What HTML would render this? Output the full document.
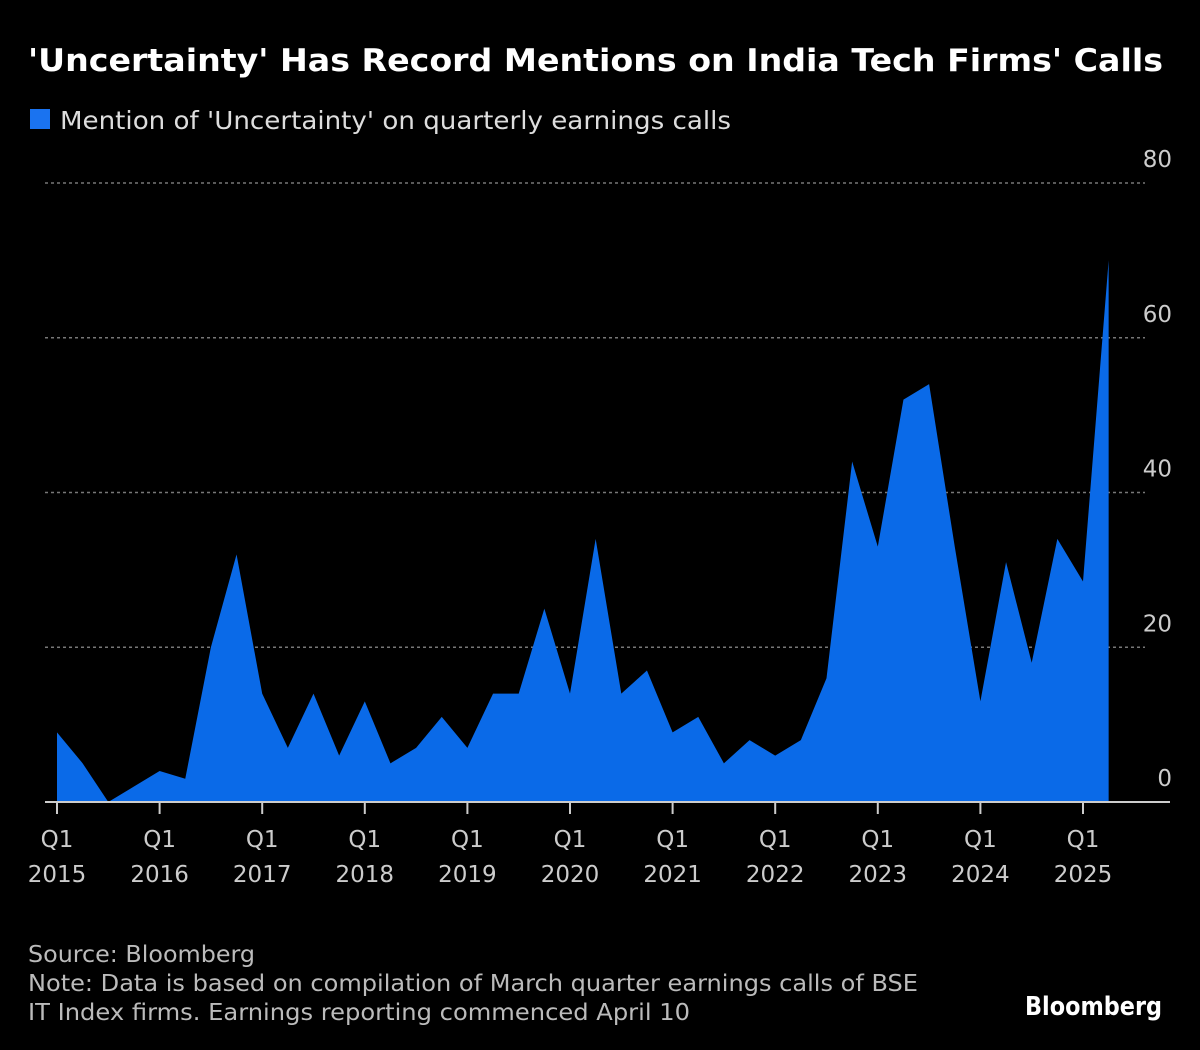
<!DOCTYPE html>
<html><head><meta charset="utf-8"><style>
body{margin:0;background:#000;width:1200px;height:1050px;overflow:hidden;font-family:"DejaVu Sans","Liberation Sans",sans-serif;color:#fff}
svg{position:absolute;left:0;top:0;font-family:"DejaVu Sans","Liberation Sans",sans-serif}
</style></head><body>
<svg width="1200" height="1050">
<text x="28" y="71" font-size="31" font-weight="bold" fill="#fff" textLength="1135" lengthAdjust="spacingAndGlyphs">'Uncertainty' Has Record Mentions on India Tech Firms' Calls</text>
<rect x="30" y="109" width="20" height="20" fill="#1a73f0"/>
<text x="60" y="129" font-size="25" fill="#ddd" textLength="671" lengthAdjust="spacingAndGlyphs">Mention of 'Uncertainty' on quarterly earnings calls</text>
<g id="grid"></g>
<path id="area" fill="#0a6ae8"/>
<line x1="45" x2="1170" y1="802" y2="802" stroke="#ccc" stroke-width="2"/>
<g id="xt"></g>
<text x="28" y="962" font-size="23" fill="#bbb" textLength="227" lengthAdjust="spacingAndGlyphs">Source: Bloomberg</text>
<text x="28" y="991" font-size="23" fill="#bbb" textLength="890" lengthAdjust="spacingAndGlyphs">Note: Data is based on compilation of March quarter earnings calls of BSE</text>
<text x="28" y="1020" font-size="23" fill="#bbb" textLength="662" lengthAdjust="spacingAndGlyphs">IT Index firms. Earnings reporting commenced April 10</text>
<text x="1162" y="1015" font-size="26" font-weight="bold" fill="#fff" text-anchor="end" textLength="137" lengthAdjust="spacingAndGlyphs">Bloomberg</text>
</svg>
<script>
const values=[9,5,0,2,4,3,20,32,14,7,14,6,13,5,7,11,7,14,14,25,14,34,14,17,9,11,5,8,6,8,16,44,33,52,54,33,13,31,18,34,28.5,70];
const yTicks=[0,20,40,60,80];
const years=[2015,2016,2017,2018,2019,2020,2021,2022,2023,2024,2025];
const NS="http://www.w3.org/2000/svg";
function xs(i){return 57+i*25.65;}
function ys(v){return 802-v*7.7375;}
const grid=document.getElementById('grid');
yTicks.forEach(t=>{
 if(t>0){const l=document.createElementNS(NS,'line');
 l.setAttribute('x1',45);l.setAttribute('x2',1145);l.setAttribute('y1',ys(t));l.setAttribute('y2',ys(t));
 l.setAttribute('stroke','#777');l.setAttribute('stroke-width','1.5');l.setAttribute('stroke-dasharray','3,3');
 
 
 grid.appendChild(l);}
 const tx=document.createElementNS(NS,'text');
 tx.setAttribute('x',1172);tx.setAttribute('y',ys(t)-16);tx.setAttribute('text-anchor','end');
 tx.setAttribute('font-size','23');tx.setAttribute('fill','#ccc');tx.textContent=t;
 
 
 grid.appendChild(tx);
});
let d='M'+xs(0)+','+ys(0);
values.forEach((v,i)=>{d+=' L'+xs(i)+','+ys(v);});
d+=' L'+xs(values.length-1)+','+ys(0)+' Z';
document.getElementById('area').setAttribute('d',d);
const xt=document.getElementById('xt');
years.forEach((y,k)=>{
 const x=xs(k*4);
 const l=document.createElementNS(NS,'line');
 l.setAttribute('x1',x);l.setAttribute('x2',x);l.setAttribute('y1',802);l.setAttribute('y2',814);
 l.setAttribute('stroke','#ccc');l.setAttribute('stroke-width','2');
 
 
 xt.appendChild(l);
 [['Q1',847],[y,882]].forEach(p=>{
  const t=document.createElementNS(NS,'text');
  t.setAttribute('x',x);t.setAttribute('y',p[1]);t.setAttribute('text-anchor','middle');
  t.setAttribute('font-size','23');t.setAttribute('fill','#ccc');t.textContent=p[0];
  
  
  xt.appendChild(t);
 });
});
</script>
</body></html>
